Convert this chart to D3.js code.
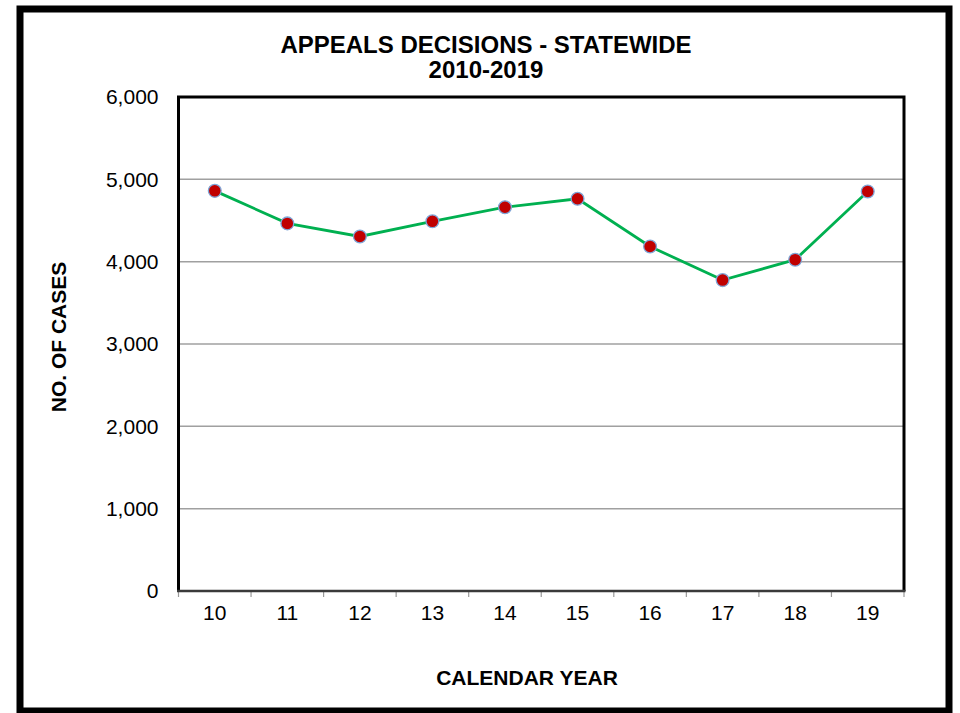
<!DOCTYPE html>
<html>
<head>
<meta charset="utf-8">
<script src="https://cdn.jsdelivr.net/npm/d3@7"></script>
<style>
  body { margin: 0; background: #fff; }
  svg { display: block; font-family: Arial, "Liberation Sans", sans-serif; }
</style>
</head>
<body>
<div id="chart"></div>
<script>
// chart values
var years = ["10", "11", "12", "13", "14", "15", "16", "17", "18", "19"];
var cases = [4860, 4465, 4306, 4490, 4661, 4764, 4184, 3776, 4024, 4853];
var yTicks = [0, 1000, 2000, 3000, 4000, 5000, 6000];
var titleLines = ["APPEALS DECISIONS - STATEWIDE", "2010-2019"];

var W = 960, H = 713;
var plot = { left: 178.5, right: 904, top: 97, bottom: 591 };

var svg = d3.select("#chart").append("svg")
    .attr("width", W)
    .attr("height", H);

// outer frame
svg.append("rect")
    .attr("x", 20).attr("y", 9)
    .attr("width", 929).attr("height", 702)
    .attr("fill", "none")
    .attr("stroke", "#000")
    .attr("stroke-width", 7);

var x = d3.scaleBand()
    .domain(years)
    .range([plot.left, plot.right])
    .padding(0);

var y = d3.scaleLinear()
    .domain([0, 6000])
    .range([plot.bottom, plot.top]);

// gridlines
svg.append("g")
    .selectAll("line")
    .data(yTicks.filter(function (d) { return d > 0 && d < 6000; }))
    .enter().append("line")
    .attr("x1", plot.left).attr("x2", plot.right)
    .attr("y1", function (d) { return y(d); })
    .attr("y2", function (d) { return y(d); })
    .attr("stroke", "#a0a0a0")
    .attr("stroke-width", 1.5);

// y axis labels
var yaxis = svg.append("g")
    .attr("transform", "translate(" + plot.left + ",0)")
    .call(d3.axisLeft(y).tickValues(yTicks).tickFormat(d3.format(",")).tickSize(0).tickPadding(20));
yaxis.select(".domain").remove();
yaxis.selectAll("text")
    .attr("font-size", 21)
    .attr("font-family", "Arial, 'Liberation Sans', sans-serif")
    .attr("fill", "#000");

// x axis labels
var xaxis = svg.append("g")
    .attr("transform", "translate(0," + plot.bottom + ")")
    .call(d3.axisBottom(x).tickSize(0).tickPadding(14));
xaxis.select(".domain").remove();
xaxis.selectAll("text")
    .attr("font-size", 21)
    .attr("font-family", "Arial, 'Liberation Sans', sans-serif")
    .attr("fill", "#000");

// tick marks at category boundaries
var bounds = years.map(function (d) { return x(d); }).concat([plot.right]);
svg.append("g")
    .selectAll("line")
    .data(bounds)
    .enter().append("line")
    .attr("x1", function (d) { return d; })
    .attr("x2", function (d) { return d; })
    .attr("y1", plot.bottom)
    .attr("y2", plot.bottom + 6)
    .attr("stroke", "#999")
    .attr("stroke-width", 1.2);

// plot border: black left/top/right, dark bottom axis
svg.append("path")
    .attr("d", "M" + plot.left + "," + plot.bottom + "V" + plot.top + "H" + plot.right + "V" + plot.bottom)
    .attr("fill", "none")
    .attr("stroke", "#000")
    .attr("stroke-width", 3);
svg.append("line")
    .attr("x1", plot.left - 1.5).attr("x2", plot.right + 1.5)
    .attr("y1", plot.bottom).attr("y2", plot.bottom)
    .attr("stroke", "#3a3a3a")
    .attr("stroke-width", 2.5);

// series line
var line = d3.line()
    .x(function (d, i) { return x(years[i]) + x.bandwidth() / 2; })
    .y(function (d) { return y(d); });

svg.append("path")
    .datum(cases)
    .attr("d", line)
    .attr("fill", "none")
    .attr("stroke", "#00b050")
    .attr("stroke-width", 2.8);

svg.append("g")
    .selectAll("circle")
    .data(cases)
    .enter().append("circle")
    .attr("cx", function (d, i) { return x(years[i]) + x.bandwidth() / 2; })
    .attr("cy", function (d) { return y(d); })
    .attr("r", 6.4)
    .attr("fill", "#c00000")
    .attr("stroke", "#7fa6d8")
    .attr("stroke-width", 1.3);

// titles
svg.append("g")
    .selectAll("text")
    .data(titleLines)
    .enter().append("text")
    .attr("x", 486)
    .attr("y", function (d, i) { return 53 + i * 25; })
    .attr("text-anchor", "middle")
    .attr("font-size", 24)
    .attr("font-weight", "bold")
    .text(function (d) { return d; });

svg.append("text")
    .attr("x", 527)
    .attr("y", 685)
    .attr("text-anchor", "middle")
    .attr("font-size", 21)
    .attr("font-weight", "bold")
    .text("CALENDAR YEAR");

svg.append("text")
    .attr("transform", "translate(66,337) rotate(-90)")
    .attr("text-anchor", "middle")
    .attr("font-size", 21)
    .attr("font-weight", "bold")
    .text("NO. OF CASES");
</script>
</body>
</html>
